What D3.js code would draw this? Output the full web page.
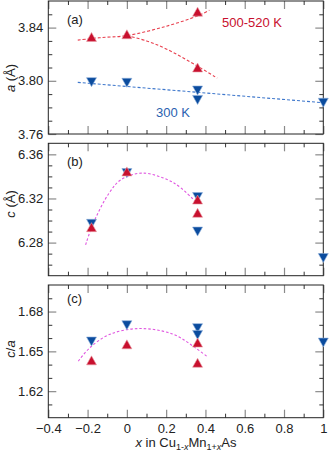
<!DOCTYPE html>
<html>
<head>
<meta charset="utf-8">
<script src="https://cdn.jsdelivr.net/npm/d3@7"></script>
<style>
  body { margin: 0; background: #fff; }
  svg { display: block; font-family: "Liberation Sans", Arial, sans-serif; }
  .frame { fill: none; stroke: #222; stroke-width: 1; }
  .axis path { display: none; }
  .axis.major line { stroke: #8a8a8a; stroke-width: 1.2; }
  .axis.minor line { stroke: #333; stroke-width: 1; }
  .axis text { font-size: 13px; fill: #222; }
</style>
</head>
<body>
<svg width="332" height="454"></svg>
<script>
// x positions and values
var aRed  = [[-0.18, 3.833], [0, 3.835], [0.36, 3.852], [0.36, 3.810]];
var aBlue = [[-0.18, 3.799], [0, 3.7985], [0.36, 3.7927], [0.36, 3.7856], [1.0, 3.7835]];
var cRed  = [[-0.18, 6.294], [0, 6.3445], [0.36, 6.319], [0.36, 6.307]];
var cBlue = [[-0.18, 6.297], [0, 6.343], [0.36, 6.3213], [0.36, 6.290], [1.0, 6.266]];
var caRed  = [[-0.18, 1.6432], [0, 1.6553], [0.36, 1.6566], [0.36, 1.6414]];
var caBlue = [[-0.18, 1.6574], [0, 1.6697], [0.36, 1.6675], [0.36, 1.6624], [1.0, 1.6566]];

// guide-to-the-eye curves (traced)
var aRedUp   = [[-0.25, 3.8306], [-0.14, 3.8324], [0, 3.834], [0.2, 3.841], [0.36, 3.8488], [0.42, 3.853]];
var aRedDown = [[0, 3.834], [0.1, 3.830], [0.2, 3.824], [0.36, 3.811], [0.46, 3.802]];
var aBlueFit = [[-0.25, 3.7988], [1.0, 3.7835]];
var cFit  = [[-0.21, 6.278], [-0.17, 6.298], [-0.09, 6.325], [-0.03, 6.337], [0.08, 6.343], [0.24, 6.334], [0.35, 6.317]];
var caFit = [[-0.247, 1.6426], [-0.188, 1.6528], [-0.086, 1.6629], [0.067, 1.6672], [0.236, 1.6629], [0.355, 1.652], [0.406, 1.6464]];

// ticks
var xMajor = [-0.4, -0.2, 0, 0.2, 0.4, 0.6, 0.8, 1.0];
var xMinor = [-0.3, -0.1, 0.1, 0.3, 0.5, 0.7, 0.9];
var aMajor = [3.76, 3.80, 3.84];
var aMinor = [3.77, 3.78, 3.79, 3.81, 3.82, 3.83, 3.85];
var cMajor = [6.28, 6.32, 6.36];
var cMinor = [6.26, 6.27, 6.29, 6.30, 6.31, 6.33, 6.34, 6.35];
var caMajor = [1.62, 1.65, 1.68];
var caMinor = [1.61, 1.63, 1.64, 1.66, 1.67, 1.69];

var red = "#c8102e", blue = "#0b4c9e";

var svg = d3.select("svg");

var x = d3.scaleLinear().domain([-0.4, 1.0]).range([48.3, 323.3]);

var panels = [
    { id: "a", domain: [3.76, 3.86], range: [134, 1], major: aMajor, minor: aMinor, fmt: d3.format(".2f"),
      red: aRed, blue: aBlue, tag: "(a)", tagY: 24, title: "a", titleY: 78 },
    { id: "b", domain: [6.25, 6.37], range: [275.7, 143.3], major: cMajor, minor: cMinor, fmt: d3.format(".2f"),
      red: cRed, blue: cBlue, tag: "(b)", tagY: 166, title: "c", titleY: 204 },
    { id: "c", domain: [1.60, 1.70], range: [417.7, 285], major: caMajor, minor: caMinor, fmt: d3.format(".2f"),
      red: caRed, blue: caBlue, tag: "(c)", tagY: 303, title: "c/a", titleY: 349 }
];

function tri(up) {
    var w = 10, h = 9;
    return up ? "M0," + (-h / 2) + "L" + (w / 2) + "," + (h / 2) + "L" + (-w / 2) + "," + (h / 2) + "Z"
              : "M0," + (h / 2) + "L" + (w / 2) + "," + (-h / 2) + "L" + (-w / 2) + "," + (-h / 2) + "Z";
}

function xLabel(d) {
    return d === 0 ? "0" : d === 1 ? "1" : d3.format(".1f")(d);
}

panels.forEach(function(p, i) {
    var y = d3.scaleLinear().domain(p.domain).range(p.range);
    p.y = y;
    var top = p.range[1], bottom = p.range[0];
    var g = svg.append("g").attr("id", "panel_" + p.id);
    var last = i === panels.length - 1;

    // ticks, all pointing inward
    [["major", 8, p.major, xMajor], ["minor", 4, p.minor, xMinor]].forEach(function(t) {
        var cls = "axis " + t[0];
        g.append("g").attr("class", cls)
            .attr("transform", "translate(0," + bottom + ")")
            .call(d3.axisBottom(x).tickValues(t[3]).tickSize(-t[1]).tickPadding(6)
                .tickFormat(last && t[0] === "major" ? xLabel : ""));
        g.append("g").attr("class", cls)
            .attr("transform", "translate(0," + top + ")")
            .call(d3.axisTop(x).tickValues(t[3]).tickSize(-t[1]).tickFormat(""));
        g.append("g").attr("class", cls)
            .attr("transform", "translate(" + x.range()[0] + ",0)")
            .call(d3.axisLeft(y).tickValues(t[2]).tickSize(-t[1]).tickPadding(5)
                .tickFormat(t[0] === "major" ? p.fmt : ""));
        g.append("g").attr("class", cls)
            .attr("transform", "translate(" + x.range()[1] + ",0)")
            .call(d3.axisRight(y).tickValues(t[2]).tickSize(-t[1]).tickFormat(""));
    });

    g.append("rect").attr("class", "frame")
        .attr("x", x.range()[0]).attr("y", top)
        .attr("width", x.range()[1] - x.range()[0]).attr("height", bottom - top);

    g.append("text").attr("x", 67).attr("y", p.tagY)
        .attr("font-size", 13).attr("fill", "#222").text(p.tag);

    // rotated y title
    var tt = g.append("text")
        .attr("transform", "translate(15," + p.titleY + ") rotate(-90)")
        .attr("text-anchor", "middle").attr("font-size", 13).attr("fill", "#222");
    if (p.id === "c") {
        tt.append("tspan").attr("font-style", "italic").text("c");
        tt.append("tspan").text("/");
        tt.append("tspan").attr("font-style", "italic").text("a");
    } else {
        tt.append("tspan").attr("font-style", "italic").text(p.title);
        tt.append("tspan").text(" (Å)");
    }
    p.g = g;
});

var line = function(y) {
    return d3.line().x(function(d) { return x(d[0]); }).y(function(d) { return y(d[1]); })
        .curve(d3.curveCatmullRom);
};

// panel (a) guides
var pa = panels[0], pb = panels[1], pc = panels[2];
pa.g.append("path").attr("d", line(pa.y)(aRedUp))
    .attr("fill", "none").attr("stroke", "#e8404f").attr("stroke-width", 1.1).attr("stroke-dasharray", "3,2");
pa.g.append("path").attr("d", line(pa.y)(aRedDown))
    .attr("fill", "none").attr("stroke", "#e8404f").attr("stroke-width", 1.1).attr("stroke-dasharray", "3,2");
pa.g.append("path").attr("d", line(pa.y)(aBlueFit))
    .attr("fill", "none").attr("stroke", "#3f78cc").attr("stroke-width", 1.1).attr("stroke-dasharray", "3,2");
pb.g.append("path").attr("d", line(pb.y)(cFit))
    .attr("fill", "none").attr("stroke", "#e055e0").attr("stroke-width", 1.1).attr("stroke-dasharray", "2.5,2");
pc.g.append("path").attr("d", line(pc.y)(caFit))
    .attr("fill", "none").attr("stroke", "#e055e0").attr("stroke-width", 1.1).attr("stroke-dasharray", "2.5,2");

// markers: blue first, red on top
panels.forEach(function(p) {
    p.g.selectAll(".blue").data(p.blue).enter().append("path")
        .attr("class", "blue")
        .attr("transform", function(d) { return "translate(" + x(d[0]) + "," + p.y(d[1]) + ")"; })
        .attr("d", tri(false))
        .attr("fill", blue).attr("stroke", "#8fb0dc").attr("stroke-width", 0.6);
    p.g.selectAll(".red").data(p.red).enter().append("path")
        .attr("class", "red")
        .attr("transform", function(d) { return "translate(" + x(d[0]) + "," + p.y(d[1]) + ")"; })
        .attr("d", tri(true))
        .attr("fill", red).attr("stroke", "#eaa0a8").attr("stroke-width", 0.6);
});

pa.g.append("text").attr("x", 222).attr("y", 27).attr("font-size", 13).attr("fill", red).text("500-520 K");
pa.g.append("text").attr("x", 156).attr("y", 117).attr("font-size", 13).attr("fill", "#2a62b0").text("300 K");

// x axis title
var xt = svg.append("text").attr("x", 186).attr("y", 447)
    .attr("text-anchor", "middle").attr("font-size", 13).attr("fill", "#222");
xt.append("tspan").attr("font-style", "italic").text("x");
xt.append("tspan").text(" in Cu");
xt.append("tspan").attr("font-size", 9).attr("dy", 3).text("1-");
xt.append("tspan").attr("font-size", 9).attr("font-style", "italic").text("x");
xt.append("tspan").attr("dy", -3).text("Mn");
xt.append("tspan").attr("font-size", 9).attr("dy", 3).text("1+");
xt.append("tspan").attr("font-size", 9).attr("font-style", "italic").text("x");
xt.append("tspan").attr("dy", -3).text("As");
</script>
</body>
</html>
